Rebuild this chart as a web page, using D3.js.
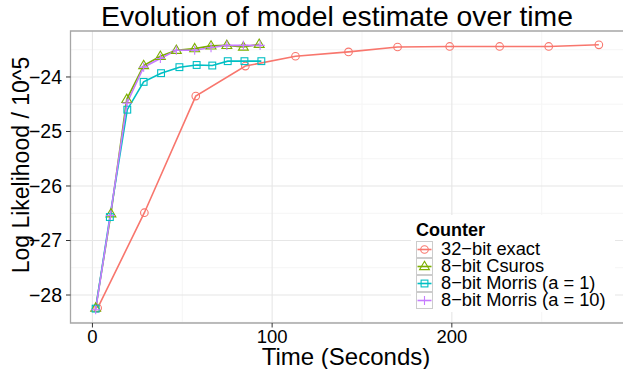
<!DOCTYPE html>
<html>
<head>
<meta charset="utf-8">
<script src="https://cdn.jsdelivr.net/npm/d3@7"></script>
<style>
  html, body { margin: 0; padding: 0; background: #fff; }
  svg { display: block; }
</style>
</head>
<body>
<div id="chart"></div>
<script>
(function () {
  "use strict";

  var FONT = "'Liberation Sans', Arial, Helvetica, sans-serif";

  // series, in legend order
  var SERIES = ["32\u2212bit exact", "8\u2212bit Csuros", "8\u2212bit Morris (a = 1)", "8\u2212bit Morris (a = 10)"];
  var COLORS = ["#F8766D", "#7CAE00", "#00BFC4", "#C77CFF"];
  var SHAPES = ["circle", "triangle", "square", "plus"];

  // time (seconds) for each series
  var exactTime   = [2.9, 28.9, 57.5, 85.1, 113, 142.5, 169.8, 198.8, 226.6, 253.9, 281.8];
  var csurosTime  = [1.8, 10.3, 19.1, 28.5, 37.8, 46.7, 56.9, 66.0, 74.8, 84.0, 92.8];
  var morris1Time = [1.8, 9.7, 19.4, 28.5, 38.2, 48.4, 58.0, 66.7, 75.3, 84.6, 94.0];
  var morris10Time = [1.8, 10.0, 19.2, 28.5, 37.8, 46.7, 56.9, 66.0, 74.8, 84.0, 93.3];

  // log likelihood / 10^5
  var exactLL   = [-28.24, -26.49, -24.35, -23.80, -23.62, -23.54, -23.45, -23.44, -23.44, -23.44, -23.41];
  var csurosLL  = [-28.24, -26.51, -24.41, -23.79, -23.62, -23.51, -23.48, -23.43, -23.42, -23.45, -23.40];
  var morris1LL = [-28.25, -26.57, -24.60, -24.09, -23.93, -23.82, -23.78, -23.79, -23.71, -23.71, -23.71];
  var morris10LL = [-28.27, -26.54, -24.48, -23.82, -23.66, -23.51, -23.51, -23.46, -23.42, -23.42, -23.42];

  var xTicks = [0, 100, 200];
  var yTicks = [-28, -27, -26, -25, -24];

  var TIMES = [exactTime, csurosTime, morris1Time, morris10Time];
  var VALUES = [exactLL, csurosLL, morris1LL, morris10LL];

  var data = SERIES.map(function (name, i) {
    return {
      name: name, color: COLORS[i], shape: SHAPES[i],
      points: TIMES[i].map(function (t, j) { return { t: t, v: VALUES[i][j] }; })
    };
  });

  var W = 623, H = 369;
  var P = { left: 70.5, top: 31, right: 624, bottom: 323 };

  var svg = d3.select("#chart").append("svg")
    .attr("width", W).attr("height", H)
    .style("background", "#fff");

  // scales with ggplot-style 5% expansion
  var allT = d3.merge(TIMES), allV = d3.merge(VALUES);
  var tExt = d3.extent(allT), vExt = d3.extent(allV);
  var tPad = (tExt[1] - tExt[0]) * 0.05, vPad = (vExt[1] - vExt[0]) * 0.05;
  var x = d3.scaleLinear().domain([tExt[0] - tPad, tExt[1] + tPad]).range([P.left, P.right]);
  var y = d3.scaleLinear().domain([vExt[0] - vPad, vExt[1] + vPad]).range([P.bottom, P.top]);

  // panel
  svg.append("rect")
    .attr("x", P.left).attr("y", P.top)
    .attr("width", P.right - P.left).attr("height", P.bottom - P.top)
    .attr("fill", "#fff");

  var grid = svg.append("g");
  // minor gridlines
  var xMinor = [50, 150, 250].filter(function (v) { return x(v) > P.left && x(v) < P.right; });
  var yMinor = d3.range(-28.5, -23, 1).filter(function (v) { return y(v) > P.top && y(v) < P.bottom; });
  xMinor.forEach(function (v) {
    grid.append("line").attr("x1", x(v)).attr("x2", x(v)).attr("y1", P.top).attr("y2", P.bottom)
      .attr("stroke", "#f5f5f5").attr("stroke-width", 1);
  });
  yMinor.forEach(function (v) {
    grid.append("line").attr("x1", P.left).attr("x2", P.right).attr("y1", y(v)).attr("y2", y(v))
      .attr("stroke", "#f5f5f5").attr("stroke-width", 1);
  });
  // major gridlines
  xTicks.forEach(function (v) {
    grid.append("line").attr("x1", x(v)).attr("x2", x(v)).attr("y1", P.top).attr("y2", P.bottom)
      .attr("stroke", "#e6e6e6").attr("stroke-width", 1.1);
  });
  yTicks.forEach(function (v) {
    grid.append("line").attr("x1", P.left).attr("x2", P.right).attr("y1", y(v)).attr("y2", y(v))
      .attr("stroke", "#e6e6e6").attr("stroke-width", 1.1);
  });

  // lines
  var line = d3.line().x(function (d) { return x(d.t); }).y(function (d) { return y(d.v); });
  data.forEach(function (s) {
    svg.append("path").datum(s.points)
      .attr("d", line).attr("fill", "none")
      .attr("stroke", s.color).attr("stroke-width", 1.6);
  });

  function drawMarker(g, shape, color, cx, cy) {
    if (shape === "circle") {
      g.append("circle").attr("cx", cx).attr("cy", cy).attr("r", 3.8)
        .attr("fill", "none").attr("stroke", color).attr("stroke-width", 1.1);
    } else if (shape === "triangle") {
      var r = 5.2;
      g.append("path")
        .attr("d", "M" + cx + "," + (cy - r) + "L" + (cx + r * 0.95) + "," + (cy + r * 0.6) +
          "L" + (cx - r * 0.95) + "," + (cy + r * 0.6) + "Z")
        .attr("fill", "none").attr("stroke", color).attr("stroke-width", 1.1);
    } else if (shape === "square") {
      g.append("rect").attr("x", cx - 3.4).attr("y", cy - 3.4).attr("width", 6.8).attr("height", 6.8)
        .attr("fill", "none").attr("stroke", color).attr("stroke-width", 1.1);
    } else {
      g.append("path")
        .attr("d", "M" + (cx - 4.6) + "," + cy + "H" + (cx + 4.6) + "M" + cx + "," + (cy - 4.6) + "V" + (cy + 4.6))
        .attr("fill", "none").attr("stroke", color).attr("stroke-width", 1.1);
    }
  }

  // points
  data.forEach(function (s) {
    var g = svg.append("g");
    s.points.forEach(function (d) { drawMarker(g, s.shape, s.color, x(d.t), y(d.v)); });
  });

  // panel border (left, top, bottom)
  svg.append("path")
    .attr("d", "M" + P.right + "," + P.top + "H" + P.left + "V" + P.bottom + "H" + P.right)
    .attr("fill", "none").attr("stroke", "#a6a6a6").attr("stroke-width", 1.3);

  // axes ticks + labels
  xTicks.forEach(function (v) {
    svg.append("line").attr("x1", x(v)).attr("x2", x(v)).attr("y1", P.bottom).attr("y2", P.bottom + 4.5)
      .attr("stroke", "#333").attr("stroke-width", 1);
    svg.append("text").attr("x", x(v)).attr("y", 343)
      .attr("text-anchor", "middle").attr("font-family", FONT).attr("font-size", "18.5px")
      .attr("fill", "#000").text(v);
  });
  yTicks.forEach(function (v) {
    svg.append("line").attr("x1", P.left - 4.5).attr("x2", P.left).attr("y1", y(v)).attr("y2", y(v))
      .attr("stroke", "#333").attr("stroke-width", 1);
    svg.append("text").attr("x", 62).attr("y", y(v) + 6.7)
      .attr("text-anchor", "end").attr("font-family", FONT).attr("font-size", "19.5px")
      .attr("fill", "#000").text("\u2212" + Math.abs(v));
  });

  // titles
  svg.append("text").attr("x", 337).attr("y", 25.5)
    .attr("text-anchor", "middle").attr("font-family", FONT).attr("font-size", "28.3px")
    .attr("fill", "#000").text("Evolution of model estimate over time");
  svg.append("text").attr("x", 346).attr("y", 364.5)
    .attr("text-anchor", "middle").attr("font-family", FONT).attr("font-size", "24px")
    .attr("fill", "#000").text("Time (Seconds)");
  svg.append("text")
    .attr("transform", "translate(28.5," + 165 + ") rotate(-90)")
    .attr("text-anchor", "middle").attr("font-family", FONT).attr("font-size", "23px")
    .attr("fill", "#000").text("Log Likelihood / 10^5");

  // legend
  var leg = svg.append("g").attr("transform", "translate(411,215)");
  leg.append("rect").attr("x", 0).attr("y", 0).attr("width", 204).attr("height", 97).attr("fill", "#fff");
  leg.append("text").attr("x", 5).attr("y", 21)
    .attr("font-family", FONT).attr("font-size", "18px").attr("font-weight", "bold")
    .attr("fill", "#000").text("Counter");
  data.forEach(function (s, i) {
    var ky = 26 + i * 17, kx = 5, ks = 17;
    leg.append("rect").attr("x", kx + 0.5).attr("y", ky + 0.5).attr("width", ks - 1).attr("height", ks - 1)
      .attr("fill", "#fff").attr("stroke", "#cccccc").attr("stroke-width", 1);
    leg.append("line").attr("x1", kx + 1.5).attr("x2", kx + ks - 1.5)
      .attr("y1", ky + ks / 2).attr("y2", ky + ks / 2)
      .attr("stroke", s.color).attr("stroke-width", 1.6);
    drawMarker(leg, s.shape, s.color, kx + ks / 2, ky + ks / 2);
    leg.append("text").attr("x", 30).attr("y", ky + 13.8)
      .attr("font-family", FONT).attr("font-size", "18.3px")
      .attr("fill", "#000").text(s.name);
  });
})();
</script>
</body>
</html>
